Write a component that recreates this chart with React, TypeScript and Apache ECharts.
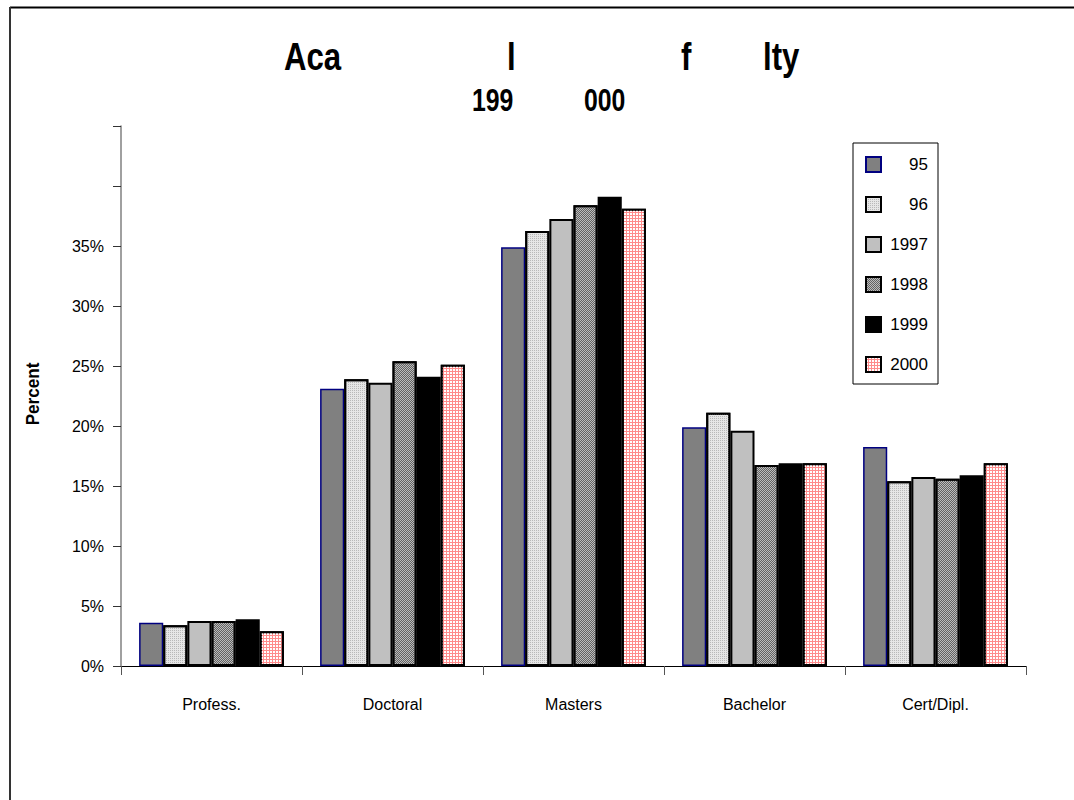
import React, { useEffect, useRef } from "react";
import * as echarts from "echarts";

const categories = ["Profess.", "Doctoral", "Masters", "Bachelor", "Cert/Dipl."];
const seriesNames = ["95", "96", "1997", "1998", "1999", "2000"];
const v95 = [3.6, 23.1, 34.9, 19.9, 18.25];
const v96 = [3.4, 23.9, 36.25, 21.1, 15.4];
const v1997 = [3.75, 23.6, 37.25, 19.6, 15.75];
const v1998 = [3.75, 25.4, 38.4, 16.75, 15.6];
const v1999 = [3.9, 24.1, 39.1, 16.9, 15.9];
const v2000 = [2.9, 25.1, 38.1, 16.9, 16.9];
const yTickLabels = ["0%", "5%", "10%", "15%", "20%", "25%", "30%", "35%"];

const FONT = "'Liberation Sans', Arial, sans-serif";

export default function App() {
  const ref = useRef<HTMLDivElement>(null);
  useEffect(() => {
    if (!ref.current) return;
    const chart = echarts.init(ref.current, undefined, { renderer: "svg" });
    const values = [v95, v96, v1997, v1998, v1999, v2000];
    const styles: any[] = [
      { color: "#808080", borderColor: "#000080", borderWidth: 1.5 },
      {
        color: "#e6e6e6",
        borderColor: "#000",
        borderWidth: 2,
        decal: { symbol: "rect", symbolSize: 1, color: "#b8b8b8", dashArrayX: [1, 1], dashArrayY: [1, 1] },
      },
      { color: "#c0c0c0", borderColor: "#000", borderWidth: 2 },
      {
        color: "#bcbcbc",
        borderColor: "#000",
        borderWidth: 2,
        decal: { symbol: "rect", symbolSize: 1, color: "#626262", dashArrayX: [[1, 1], [0, 1, 1, 0]], dashArrayY: [1, 0] },
      },
      { color: "#000000", borderColor: "#000", borderWidth: 2 },
      {
        color: "#ff8c8c",
        borderColor: "#000",
        borderWidth: 2,
        decal: { symbol: "rect", symbolSize: 1, color: "#ffffff", dashArrayX: [2, 1], dashArrayY: [2, 1] },
      },
    ];
    const series = seriesNames.map((name, i) => ({
      name,
      type: "bar",
      data: values[i],
      barGap: "0%",
      barCategoryGap: "20%",
      itemStyle: styles[i],
    }));
    const titleParts = [
      { t: "Aca", x: 284, y: 56 },
      { t: "l", x: 507, y: 56 },
      { t: "f", x: 681, y: 56 },
      { t: "lty", x: 763, y: 56 },
    ];
    const subParts = [
      { t: "199", x: 472, y: 101 },
      { t: "000", x: 584, y: 101 },
    ];
    chart.setOption({
      animation: false,
      backgroundColor: "#ffffff",
      textStyle: { fontFamily: FONT },
      grid: { left: 121, right: 48, top: 126, bottom: 134, containLabel: false },
      legend: {
        orient: "vertical",
        left: 853,
        top: 143,
        padding: [13, 10, 11, 12],
        itemGap: 23,
        itemWidth: 15,
        itemHeight: 15,
        icon: "rect",
        borderColor: "#000",
        borderWidth: 1,
        backgroundColor: "#fff",
        formatter: (name: string) => `{a|${name}}`,
        textStyle: {
          fontFamily: FONT,
          fontSize: 17,
          color: "#000",
          rich: { a: { width: 42, align: "right", fontSize: 17, lineHeight: 15, fontFamily: FONT, color: "#000" } },
        },
        data: seriesNames,
      },
      xAxis: {
        type: "category",
        data: categories,
        axisLine: { lineStyle: { color: "#000", width: 1 } },
        axisTick: { show: true, length: 9, lineStyle: { color: "#555" } },
        axisLabel: { color: "#000", fontSize: 16, fontFamily: FONT, margin: 30 },
      },
      yAxis: {
        type: "value",
        min: 0,
        max: 45,
        interval: 5,
        splitLine: { show: false },
        axisLine: { show: true, lineStyle: { color: "#808080", width: 1.5 } },
        axisTick: { show: true, length: 8, lineStyle: { color: "#333" } },
        axisLabel: {
          color: "#000",
          fontSize: 16,
          fontFamily: FONT,
          margin: 17,
          formatter: (v: number) => {
            const idx = Math.round(v / 5);
            return yTickLabels[idx] !== undefined ? yTickLabels[idx] : "";
          },
        },
      },
      graphic: [
        { type: "line", shape: { x1: 10, y1: 7.5, x2: 1074, y2: 7.5 }, style: { stroke: "#000", lineWidth: 2 } },
        { type: "line", shape: { x1: 10, y1: 7, x2: 10, y2: 800 }, style: { stroke: "#333", lineWidth: 2 } },
        ...titleParts.map((p) => ({
          type: "text",
          x: p.x,
          y: p.y,
          scaleX: 0.8,
          style: {
            text: p.t,
            fill: "#000",
            font: `bold 39px ${FONT}`,
            verticalAlign: "middle",
          },
        })),
        ...subParts.map((p) => ({
          type: "text",
          x: p.x,
          y: p.y,
          scaleX: 0.8,
          style: {
            text: p.t,
            fill: "#000",
            font: `bold 31px ${FONT}`,
            verticalAlign: "middle",
          },
        })),
        {
          type: "text",
          x: 33,
          y: 394,
          rotation: Math.PI / 2,
          scaleX: 0.9,
          style: {
            text: "Percent",
            fill: "#000",
            font: `bold 19px ${FONT}`,
            align: "center",
            verticalAlign: "middle",
          },
        },
      ],
      series,
    });
    return () => chart.dispose();
  }, []);
  return <div ref={ref} style={{ width: 1074, height: 800, position: "absolute", left: 0, top: 0 }} />;
}
